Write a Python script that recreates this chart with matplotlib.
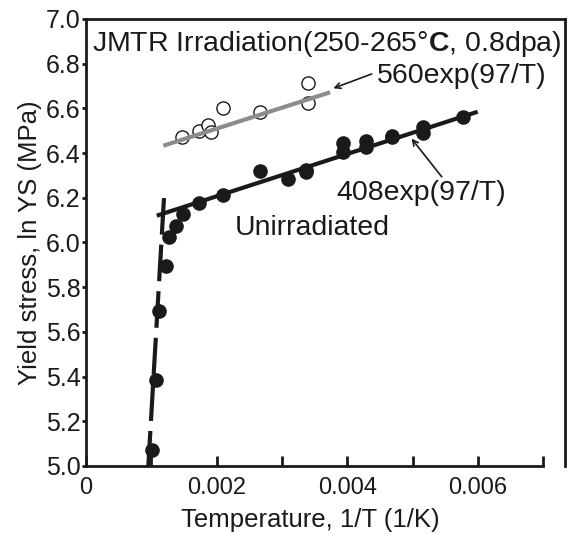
import matplotlib.pyplot as plt

plt.rcParams['font.family'] = ['Liberation Sans', 'DejaVu Sans']
plt.rcParams['mathtext.fontset'] = 'custom'
plt.rcParams['mathtext.rm'] = 'Liberation Sans'
plt.rcParams['mathtext.bf'] = 'Liberation Sans:bold'

# irradiated (open circles)
irr_x = [0.00147, 0.00173, 0.00187, 0.00191, 0.00210, 0.00267, 0.00340, 0.00340]
irr_y = [6.471, 6.499, 6.526, 6.493, 6.600, 6.582, 6.715, 6.623]

# unirradiated (filled circles)
unirr_x = [0.001006, 0.00107, 0.001123, 0.001225, 0.001276, 0.001373, 0.00149,
           0.001736, 0.002103, 0.002665, 0.003098, 0.003364, 0.003364,
           0.00394, 0.00394, 0.004283, 0.004283, 0.004681, 0.004681,
           0.005166, 0.005166, 0.005768]
unirr_y = [5.072, 5.385, 5.694, 5.896, 6.023, 6.075, 6.128,
           6.175, 6.213, 6.320, 6.284, 6.314, 6.325,
           6.444, 6.406, 6.455, 6.429, 6.477, 6.470,
           6.515, 6.489, 6.563]

# fitted lines (end points)
fit_irr_x = [0.001184, 0.003737]
fit_irr_y = [6.433, 6.672]
fit_unirr_x = [0.001083, 0.005998]
fit_unirr_y = [6.120, 6.585]
steep_x = [0.001194, 0.000954]
steep_y = [6.199, 5.0]

ink = '#1a1a1a'

fig = plt.figure(figsize=(5.75, 5.35), dpi=100)
ax = fig.add_axes([0.1496, 0.129, 0.833, 0.8355])

ax.plot(steep_x, steep_y, color=ink, lw=3, linestyle=(0, (8.8, 2.4)),
        dash_capstyle='butt', zorder=2)
ax.plot(fit_unirr_x, fit_unirr_y, color=ink, lw=3, solid_capstyle='butt', zorder=2)
ax.plot(fit_irr_x, fit_irr_y, color='#8c8c8c', lw=3, solid_capstyle='butt', zorder=2)

ax.plot(unirr_x, unirr_y, 'o', color=ink, ms=9.5, zorder=3)
ax.plot(irr_x, irr_y, 'o', mfc='white', mec=ink, mew=1, ms=9.5, zorder=1)

ax.set_xlim(0, 0.007335)
ax.set_ylim(5.0, 7.0)
ax.spines['bottom'].set_bounds(0, 0.007)
for s in ax.spines.values():
    s.set_linewidth(2)
    s.set_color(ink)

ax.set_xticks([0.001 * i for i in range(8)])
ax.set_xticklabels(['0', '', '0.002', '', '0.004', '', '0.006', ''])
ax.set_yticks([5.0 + 0.2 * i for i in range(11)])
ax.set_yticklabels(['%.1f' % (5.0 + 0.2 * i) for i in range(11)])
ax.tick_params(axis='x', direction='in', length=7, width=2, labelsize=17, pad=8,
               colors=ink)
ax.tick_params(axis='y', direction='out', length=3, width=2, labelsize=18, pad=1,
               colors=ink)

ax.set_xlabel('Temperature, 1/T (1/K)', fontsize=18.5, color=ink, labelpad=4)
ax.xaxis.set_label_coords(0.468, -0.095)
ax.set_ylabel('Yield stress, ln YS (MPa)', fontsize=18.5, color=ink, labelpad=3)

ax.text(0.00009, 6.89, r'JMTR Irradiation(250-265°$\mathbf{C}$, 0.8dpa)',
        fontsize=20.5, color=ink, va='center', ha='left')

ax.text(0.00446, 6.745, '560exp(97/T)', fontsize=20.5, color=ink,
        va='center', ha='left')
ax.annotate('', xy=(0.003787, 6.690), xytext=(0.004375, 6.754),
            arrowprops=dict(arrowstyle='->', color=ink, lw=1.2,
                            shrinkA=0, shrinkB=0))
ax.text(0.005138, 6.22, '408exp(97/T)', fontsize=20.5, color=ink,
        va='center', ha='center')
ax.annotate('', xy=(0.004985, 6.465), xytext=(0.005447, 6.294),
            arrowprops=dict(arrowstyle='->', color=ink, lw=1.2,
                            shrinkA=0, shrinkB=0))
ax.text(0.00228, 6.065, 'Unirradiated', fontsize=20.5, color=ink,
        va='center', ha='left')

fig.savefig('out.png', dpi=100)
